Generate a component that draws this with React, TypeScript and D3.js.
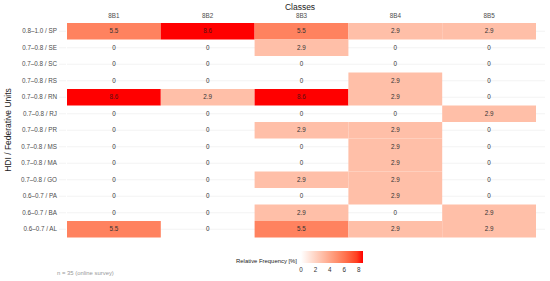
import * as React from "react";
import * as d3 from "d3";

const classes = ["8B1", "8B2", "8B3", "8B4", "8B5"];
const units = [
  "0.8–1.0 / SP", "0.7–0.8 / SE", "0.7–0.8 / SC", "0.7–0.8 / RS", "0.7–0.8 / RN",
  "0.7–0.8 / RJ", "0.7–0.8 / PR", "0.7–0.8 / MS", "0.7–0.8 / MA", "0.7–0.8 / GO",
  "0.6–0.7 / PA", "0.6–0.7 / BA", "0.6–0.7 / AL",
];
// one row per unit, one value per class
const freq = [
  [5.5, 8.6, 5.5, 2.9, 2.9],
  [0, 0, 2.9, 0, 0],
  [0, 0, 0, 0, 0],
  [0, 0, 0, 2.9, 0],
  [8.6, 2.9, 8.6, 2.9, 0],
  [0, 0, 0, 0, 2.9],
  [0, 0, 2.9, 2.9, 0],
  [0, 0, 0, 2.9, 0],
  [0, 0, 0, 2.9, 0],
  [0, 0, 2.9, 2.9, 0],
  [0, 0, 0, 2.9, 0],
  [0, 0, 2.9, 0, 2.9],
  [5.5, 0, 5.5, 2.9, 2.9],
];
const legendTicks = [0, 2, 4, 6, 8];

const W = 550, H = 281;
const margin = { top: 23, left: 67, right: 14, bottom: 43.5 };

export default function App() {
  const x = d3.scaleBand().domain(classes).range([margin.left, margin.left + 469]);
  const y = d3.scaleBand().domain(units).range([margin.top, margin.top + 214.5]);
  const color = d3.scaleLinear<string>()
    .domain([0, 8.6])
    .range(["#ffffff", "#ff0000"])
    .interpolate(d3.interpolateLab);
  const lx = d3.scaleLinear().domain([0, 8.6]).range([301, 363]);

  const cells: any[] = [];
  freq.forEach((row, i) => row.forEach((v, j) => cells.push({ u: units[i], c: classes[j], v })));

  const font = "Liberation Sans, Arial, sans-serif";
  const stops = d3.range(0, 1.0001, 0.1);

  return (
    <svg width={W} height={H} style={{ position: "absolute", left: 0, top: 0, fontFamily: font }}>
      <defs>
        <linearGradient id="lg" x1="0" x2="1" y1="0" y2="0">
          {stops.map(t => <stop key={t} offset={t} stopColor={color(t * 8.6)} />)}
        </linearGradient>
      </defs>
      <rect width={W} height={H} fill="#fff" />
      {units.map(u => (
        <line key={u} x1={margin.left} x2={545} y1={y(u)! + y.bandwidth() / 2} y2={y(u)! + y.bandwidth() / 2}
          stroke="#ebebeb" strokeWidth={0.6} />
      ))}
      {cells.map((d, k) => (
        <rect key={k} x={x(d.c)} y={y(d.u)} width={x.bandwidth()} height={y.bandwidth()}
          fill={d.v > 0 ? color(d.v) : "none"} />
      ))}
      {cells.map((d, k) => (
        <text key={"t" + k} x={x(d.c)! + x.bandwidth() / 2} y={y(d.u)! + y.bandwidth() / 2} dy="0.35em"
          textAnchor="middle" fontSize={6.3} fill={d.v > 8 ? "#5a1010" : "#333"}>{d.v}</text>
      ))}
      {classes.map(c => (
        <text key={c} x={x(c)! + x.bandwidth() / 2} y={18} textAnchor="middle" fontSize={6.3} fill="#4d4d4d">{c}</text>
      ))}
      <text x={300} y={10} textAnchor="middle" fontSize={8.5} fill="#222">Classes</text>
      {units.map(u => (
        <g key={"l" + u}>
          <line x1={59} x2={66} y1={y(u)! + y.bandwidth() / 2} y2={y(u)! + y.bandwidth() / 2} stroke="#ebebeb" strokeWidth={0.6} />
          <text x={57} y={y(u)! + y.bandwidth() / 2} dy="0.35em" textAnchor="end" fontSize={6.3} fill="#4d4d4d">{u}</text>
        </g>
      ))}
      <text transform={`translate(11,${margin.top + 107}) rotate(-90)`} textAnchor="middle" fontSize={8.5} fill="#222">
        HDI / Federative Units
      </text>
      <text x={297} y={263} textAnchor="end" fontSize={5.9} fill="#222">Relative Frequency [%]</text>
      <rect x={lx(0)} y={251} width={lx(8.6) - lx(0)} height={12} fill="url(#lg)" />
      {legendTicks.map(t => (
        <text key={t} x={lx(t)} y={272} textAnchor="middle" fontSize={6.3} fill="#333">{t}</text>
      ))}
      <text x={57} y={275} fontSize={5.9} fill="#999">n = 35 (online survey)</text>
    </svg>
  );
}
